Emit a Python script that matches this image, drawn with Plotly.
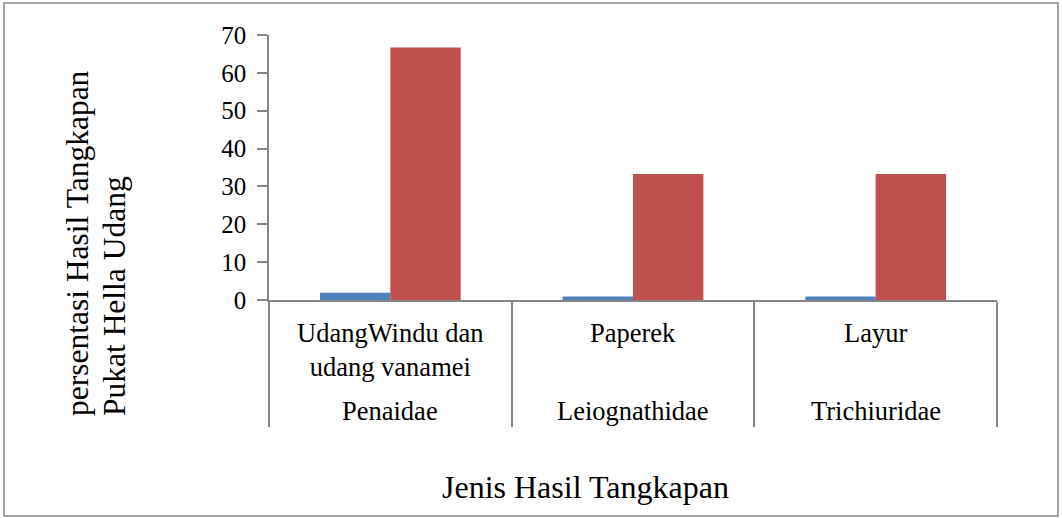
import plotly.graph_objects as go

# ---- data ----
categories = ["UdangWindu dan<br>udang vanamei", "Paperek", "Layur"]
families = ["Penaidae", "Leiognathidae", "Trichiuridae"]
series_blue = [1.9, 0.9, 0.9]
series_red = [66.7, 33.3, 33.3]
y_ticks = [0, 10, 20, 30, 40, 50, 60, 70]
y_title_lines = ["persentasi Hasil Tangkapan", "Pukat Hella Udang"]
x_title = "Jenis Hasil Tangkapan"

FONT = "Liberation Serif, Times New Roman, serif"
GRAY = "#868686"

# plot-area pixel geometry (for paper-coordinate conversions)
W, H = 1062, 518
L, R, T, B = 269, 65, 35, 218
PW = W - L - R
PH = H - T - B


def px_x(x):
    return (x - L) / PW


def px_y(y):
    return (H - B - y) / PH


fig = go.Figure()
fig.add_trace(go.Bar(x=categories, y=series_blue, marker=dict(color="#4F81BD", line=dict(width=0)),
                     showlegend=False))
fig.add_trace(go.Bar(x=categories, y=series_red, marker=dict(color="#C0504D", line=dict(width=0)),
                     showlegend=False))

annotations = []
for cat, fam in zip(categories, families):
    annotations.append(dict(x=cat, xref="x", y=px_y(316), yref="paper", yanchor="top",
                            text=cat, showarrow=False,
                            font=dict(family=FONT, size=26.5, color="black")))
    annotations.append(dict(x=cat, xref="x", y=px_y(411), yref="paper", yanchor="middle",
                            text=fam, showarrow=False,
                            font=dict(family=FONT, size=26.5, color="black")))

annotations.append(dict(x=px_x(585), xref="paper", y=px_y(487), yref="paper",
                        xanchor="center", yanchor="middle",
                        text=x_title, showarrow=False,
                        font=dict(family=FONT, size=32, color="black")))
for line, cx in zip(y_title_lines, [77, 114]):
    annotations.append(dict(x=px_x(cx), xref="paper", y=px_y(418), yref="paper",
                            xanchor="center", yanchor="bottom", textangle=-90,
                            text=line, showarrow=False,
                            font=dict(family=FONT, size=31.5, color="black")))

fig.update_layout(
    width=W, height=H,
    margin=dict(l=L, r=R, t=T, b=B, pad=0),
    paper_bgcolor="white", plot_bgcolor="white",
    barmode="group", bargap=0.42, bargroupgap=0,
    annotations=annotations,
    shapes=[dict(type="rect", xref="paper", yref="paper",
                 x0=px_x(4), x1=px_x(1058), y0=px_y(516), y1=px_y(3),
                 line=dict(color=GRAY, width=1.5), fillcolor="rgba(0,0,0,0)", layer="below")],
    xaxis=dict(type="category", range=[-0.5, 2.5], showline=True, linecolor=GRAY, linewidth=1.5,
               ticks="outside", tickson="boundaries", ticklen=125, tickcolor=GRAY, tickwidth=1.5,
               showticklabels=False, showgrid=False, zeroline=False, fixedrange=True),
    yaxis=dict(range=[0, 70], tickvals=y_ticks, showline=True, linecolor=GRAY, linewidth=1.5,
               ticks="outside", ticklen=10, tickcolor=GRAY, tickwidth=1.5,
               ticklabelstandoff=6,
               tickfont=dict(family=FONT, size=25, color="black"),
               showgrid=False, zeroline=False, fixedrange=True),
)

fig.write_html("out.html", config={"displayModeBar": False},
               post_script="document.body.style.margin='0';document.body.style.overflow='hidden';")
